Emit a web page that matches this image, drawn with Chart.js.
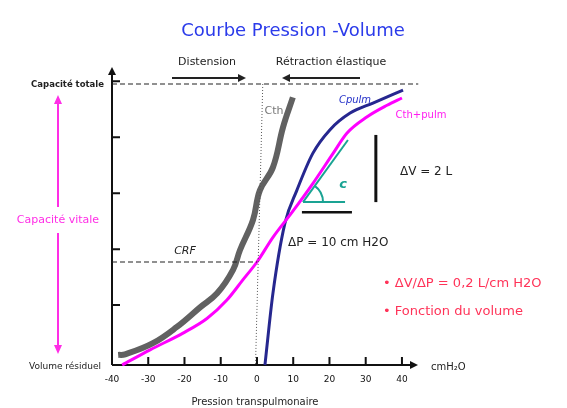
<!DOCTYPE html>
<html>
<head>
<meta charset="utf-8">
<script src="https://cdn.jsdelivr.net/npm/chart.js@4/dist/chart.umd.min.js"></script>
<style>
  html, body { margin: 0; padding: 0; background: #fff; }
  canvas { display: block; }
</style>
</head>
<body>
<canvas id="pv-chart" width="567" height="408"></canvas>
<script>
// Courbe pression-volume : pression transpulmonaire (cmH2O) en x, volume (unités) en y

const xTicks = [-40, -30, -20, -10, 0, 10, 20, 30, 40];
const yTicks = [1, 2, 3, 4, 5];

// Cth (paroi thoracique)
const cthP = [-38.3, -36.4, -28.7, -22.1, -15.7, -11, -6.6, -4.7, -1.1, 0.8, 4.4, 7.2, 9.9];
const cthV = [0.11, 0.12, 0.32, 0.61, 0.96, 1.21, 1.63, 1.98, 2.52, 3.05, 3.46, 4.18, 4.71];

// Cpulm (poumon)
const cpulmP = [2.2, 4.4, 7.7, 11, 15.4, 20.1, 25.7, 32, 40.3];
const cpulmV = [-0.07, 1.21, 2.46, 3.05, 3.71, 4.13, 4.43, 4.61, 4.84];

// Cth+pulm (système respiratoire)
const totP = [-37.2, -29.5, -20.4, -13.8, -8.3, -3.9, 0, 4.4, 9.7, 15.4, 21, 24.8, 30.3, 35.9, 40];
const totV = [-0.07, 0.2, 0.5, 0.76, 1.09, 1.45, 1.77, 2.21, 2.66, 3.17, 3.71, 4.07, 4.36, 4.57, 4.7];

// niveaux de référence
const tlcLevel = 4.95;   // capacité totale
const crfLevel = 1.77;   // CRF

// construction de la compliance (pente, ΔP, ΔV)
const slopeP = [12.7, 25.1];
const slopeV = [2.84, 3.95];
const baseP = [12.7, 24.3];
const dpP = [12.4, 26.2];
const dpV = 2.66;
const dvP = 32.8;
const dvV = [2.84, 4.04];

const FONT = '"DejaVu Sans", "Noto Sans", sans-serif';

function pts(xs, ys) {
    return xs.map((x, i) => ({ x: x, y: Array.isArray(ys) ? ys[i] : ys }));
}

function lineSet(data, color, width, extra) {
    return Object.assign({
        data: data,
        showLine: true,
        borderColor: color,
        borderWidth: width,
        pointRadius: 0,
        fill: false,
        clip: false
    }, extra || {});
}

// Axes, graduations, flèches et textes
const overlay = {
    id: 'overlay',
    beforeDatasetsDraw(chart) {
        const ctx = chart.ctx;
        const xs = chart.scales.x, ys = chart.scales.y;
        const x0 = xs.getPixelForValue(-40);
        const y0 = ys.getPixelForValue(-0.07);
        const xEnd = xs.right;
        const yEnd = ys.top;

        ctx.save();
        ctx.strokeStyle = '#111';
        ctx.fillStyle = '#111';
        ctx.lineWidth = 2;
        ctx.beginPath();
        ctx.moveTo(x0, y0); ctx.lineTo(xEnd - 2, y0);
        ctx.moveTo(x0, y0); ctx.lineTo(x0, yEnd + 2);
        ctx.stroke();
        // pointes de flèche
        ctx.beginPath();
        ctx.moveTo(xEnd + 3, y0); ctx.lineTo(xEnd - 5, y0 - 4); ctx.lineTo(xEnd - 5, y0 + 4); ctx.closePath();
        ctx.moveTo(x0, yEnd - 3); ctx.lineTo(x0 - 4, yEnd + 5); ctx.lineTo(x0 + 4, yEnd + 5); ctx.closePath();
        ctx.fill();

        // graduations vers l'intérieur
        ctx.lineWidth = 2;
        ctx.beginPath();
        xTicks.slice(1).forEach(v => {
            const px = xs.getPixelForValue(v);
            ctx.moveTo(px, y0); ctx.lineTo(px, y0 - 8);
        });
        yTicks.forEach(v => {
            const py = ys.getPixelForValue(v);
            ctx.moveTo(x0, py); ctx.lineTo(x0 + 8, py);
        });
        ctx.stroke();

        ctx.font = '9px ' + FONT;
        ctx.textAlign = 'center';
        ctx.textBaseline = 'middle';
        xTicks.forEach(v => {
            ctx.fillText(String(v), xs.getPixelForValue(v), y0 + 15);
        });
        ctx.restore();
    },
    afterDraw(chart) {
        const ctx = chart.ctx;
        const xs = chart.scales.x, ys = chart.scales.y;
        const px = v => xs.getPixelForValue(v);
        const py = v => ys.getPixelForValue(v);

        function text(str, x, y, font, color, align) {
            ctx.font = font;
            ctx.fillStyle = color;
            ctx.textAlign = align || 'left';
            ctx.textBaseline = 'middle';
            ctx.fillText(str, x, y);
        }

        ctx.save();

        // titre
        text('Courbe Pression -Volume', 293, 31, '18px ' + FONT, '#2b3bea', 'center');

        // Distension / Rétraction élastique
        text('Distension', 207, 62, '11px ' + FONT, '#222', 'center');
        text('Rétraction élastique', 331, 62, '11px ' + FONT, '#222', 'center');
        ctx.strokeStyle = '#222';
        ctx.fillStyle = '#222';
        ctx.lineWidth = 2;
        ctx.beginPath();
        ctx.moveTo(172, 78); ctx.lineTo(240, 78);
        ctx.moveTo(360, 78); ctx.lineTo(288, 78);
        ctx.stroke();
        ctx.beginPath();
        ctx.moveTo(246, 78); ctx.lineTo(238, 74); ctx.lineTo(238, 82); ctx.closePath();
        ctx.moveTo(282, 78); ctx.lineTo(290, 74); ctx.lineTo(290, 82); ctx.closePath();
        ctx.fill();

        // étiquettes de l'axe y
        text('Capacité totale', 104, py(tlcLevel) + 1, 'bold 8.5px ' + FONT, '#222', 'right');
        text('Volume résiduel', 101, py(-0.07) + 2, '9px ' + FONT, '#222', 'right');
        text('Capacité vitale', 58, 220, '11px ' + FONT, '#ff2ee6', 'center');

        // double flèche capacité vitale
        ctx.strokeStyle = '#ff2ee6';
        ctx.fillStyle = '#ff2ee6';
        ctx.lineWidth = 2;
        ctx.beginPath();
        ctx.moveTo(58, 102); ctx.lineTo(58, 207);
        ctx.moveTo(58, 233); ctx.lineTo(58, 347);
        ctx.stroke();
        ctx.beginPath();
        ctx.moveTo(58, 95); ctx.lineTo(54, 104); ctx.lineTo(62, 104); ctx.closePath();
        ctx.moveTo(58, 354); ctx.lineTo(54, 345); ctx.lineTo(62, 345); ctx.closePath();
        ctx.fill();

        // axe x
        text('cmH\u2082O', 431, py(-0.07) + 2, '10px ' + FONT, '#222', 'left');
        text('Pression transpulmonaire', 255, 402, '10px ' + FONT, '#222', 'center');

        // noms des courbes
        text('Cth', 274, 111, '11px ' + FONT, '#777', 'center');
        text('Cpulm', 355, 100, 'italic 10px ' + FONT, '#2430c8', 'center');
        text('Cth+pulm', 421, 115, '10px ' + FONT, '#ff1ef0', 'center');
        text('CRF', 185, 251, 'italic 11px ' + FONT, '#222', 'center');

        // compliance
        ctx.strokeStyle = '#1aa393';
        ctx.lineWidth = 2;
        ctx.beginPath();
        const ax = px(slopeP[0]), ay = py(slopeV[0]);
        const ang = Math.atan2(py(slopeV[1]) - ay, px(slopeP[1]) - ax);
        ctx.arc(ax, ay, 20, ang, 0);
        ctx.stroke();
        text('c', 343, 185, 'italic bold 13px ' + FONT, '#1aa393', 'center');

        text('\u0394V = 2 L', 400, 172, '12px ' + FONT, '#222', 'left');
        text('\u0394P = 10 cm H2O', 288, 243, '12px ' + FONT, '#222', 'left');
        text('\u2022 \u0394V/\u0394P = 0,2 L/cm H2O', 383, 284, '13px ' + FONT, '#ff3358', 'left');
        text('\u2022 Fonction du volume', 383, 312, '13px ' + FONT, '#ff3358', 'left');

        ctx.restore();
    }
};

const ctx = document.getElementById('pv-chart');

new Chart(ctx, {
    type: 'scatter',
    data: {
        datasets: [
            lineSet([{ x: -40, y: tlcLevel }, { x: 44.5, y: tlcLevel }], '#222', 1.2, { borderDash: [5, 3] }),
            lineSet([{ x: -40, y: crfLevel }, { x: 0, y: crfLevel }], '#222', 1.2, { borderDash: [5, 3] }),
            lineSet([{ x: 1.6, y: tlcLevel }, { x: -0.4, y: -0.07 }], '#555', 1, { borderDash: [1, 2] }),
            lineSet(pts(cthP, cthV), '#616161', 6, { tension: 0.4 }),
            lineSet(pts(totP, totV), '#ff00ff', 3, { cubicInterpolationMode: 'monotone' }),
            lineSet(pts(cpulmP, cpulmV), '#26278f', 3, { cubicInterpolationMode: 'monotone' }),
            lineSet(pts(slopeP, slopeV), '#1aa393', 2),
            lineSet(pts(baseP, slopeV[0]), '#1aa393', 2),
            lineSet(pts(dpP, dpV), '#111', 2.5),
            lineSet(pts([dvP, dvP], dvV), '#111', 3)
        ]
    },
    options: {
        responsive: false,
        animation: false,
        layout: { padding: { left: 112, right: 152, top: 70, bottom: 43 } },
        plugins: {
            legend: { display: false },
            tooltip: { enabled: false }
        },
        scales: {
            x: { type: 'linear', display: false, min: -40, max: 43.6 },
            y: { type: 'linear', display: false, min: -0.07, max: 5.2 }
        }
    },
    plugins: [overlay]
});
</script>
</body>
</html>
